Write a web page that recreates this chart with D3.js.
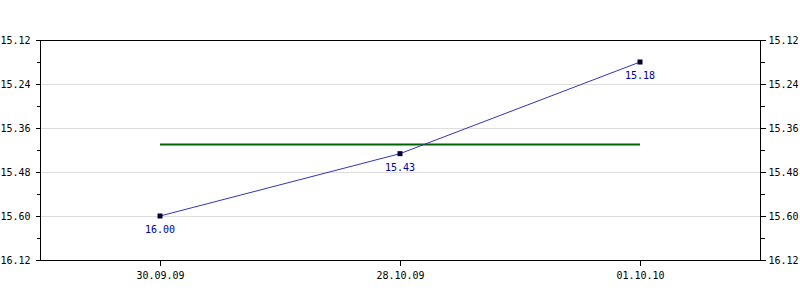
<!DOCTYPE html>
<html><head><meta charset="utf-8">
<script src="https://cdn.jsdelivr.net/npm/d3@7"></script>
<style>body{margin:0;background:#fff}svg{display:block}text{font-family:"DejaVu Sans Mono",monospace;font-size:10px}</style>
</head><body><svg id="c" width="800" height="300"></svg>
<script>
const categories = ["30.09.09", "28.10.09", "01.10.10"];
const values = [16.00, 15.43, 15.18];
const reference = 15.405;
const tickValues = [15.12, 15.24, 15.36, 15.48, 15.60, 15.72];
const tickLabels = ["15.12", "15.24", "15.36", "15.48", "15.60", "16.12"];
const displayFloor = 15.60;

const W = 800, H = 300, m = {l: 40, r: 40, t: 40, b: 40};
const svg = d3.select("#c");
const x = d3.scalePoint().domain(categories).range([m.l, W - m.r]).padding(0.5);
const y = d3.scaleLinear().domain([15.12, 15.72]).range([m.t, H - m.b]);
const minor = d3.range(5).map(i => (tickValues[i] + tickValues[i + 1]) / 2);

// grid
svg.append("g").selectAll("line").data(tickValues.slice(1, -1)).join("line")
  .attr("x1", m.l).attr("x2", W - m.r).attr("y1", d => y(d)).attr("y2", d => y(d))
  .attr("stroke", "#dddddd").attr("shape-rendering", "crispEdges");

// frame
svg.append("rect").attr("x", m.l + 0.5).attr("y", m.t + 0.5).attr("width", W - m.l - m.r).attr("height", H - m.t - m.b)
  .attr("fill", "none").attr("stroke", "#000").attr("shape-rendering", "crispEdges");

const fmt = d => tickLabels[tickValues.indexOf(d)];
function styleAxis(g) {
  g.select(".domain").remove();
  g.selectAll("line").attr("stroke", "#000").attr("shape-rendering", "crispEdges");
  g.selectAll("text").attr("fill", "#000").style("font-family", '"DejaVu Sans Mono",monospace').style("font-size", "10px");
}
svg.append("g").attr("transform", `translate(${m.l + 0.5},0)`)
  .call(d3.axisLeft(y).tickValues(tickValues).tickFormat(fmt).tickSize(5).tickPadding(5)).call(styleAxis);
svg.append("g").attr("transform", `translate(${m.l + 0.5},0)`)
  .call(d3.axisLeft(y).tickValues(minor).tickFormat("").tickSize(4)).call(styleAxis);
svg.append("g").attr("transform", `translate(${W - m.r + 0.5},0)`)
  .call(d3.axisRight(y).tickValues(tickValues).tickFormat(fmt).tickSize(5).tickPadding(3)).call(styleAxis);
svg.append("g").attr("transform", `translate(${W - m.r + 0.5},0)`)
  .call(d3.axisRight(y).tickValues(minor).tickFormat("").tickSize(4)).call(styleAxis);
svg.append("g").attr("transform", `translate(0,${H - m.b + 0.5})`)
  .call(d3.axisBottom(x).tickSize(5).tickPadding(6)).call(styleAxis);

// reference line
svg.append("line").attr("x1", x(categories[0])).attr("x2", x(categories[categories.length - 1]))
  .attr("y1", y(reference)).attr("y2", y(reference)).attr("stroke", "#006400").attr("stroke-width", 2);

const yv = v => y(Math.min(v, displayFloor));
const pts = categories.map((c, i) => ({c, v: values[i]}));
svg.append("path").datum(pts).attr("fill", "none").attr("stroke", "#3333bb").attr("stroke-width", 1)
  .attr("d", d3.line().x(d => x(d.c)).y(d => yv(d.v)));
svg.append("g").selectAll("rect").data(pts).join("rect")
  .attr("x", d => x(d.c) - 2.5).attr("y", d => yv(d.v) - 2.5).attr("width", 5).attr("height", 5)
  .attr("fill", "#000033");
svg.append("g").selectAll("text").data(pts).join("text")
  .attr("x", d => x(d.c)).attr("y", d => yv(d.v) + 17).attr("text-anchor", "middle")
  .attr("fill", "#000099").text(d => d.v.toFixed(2));
</script></body></html>
